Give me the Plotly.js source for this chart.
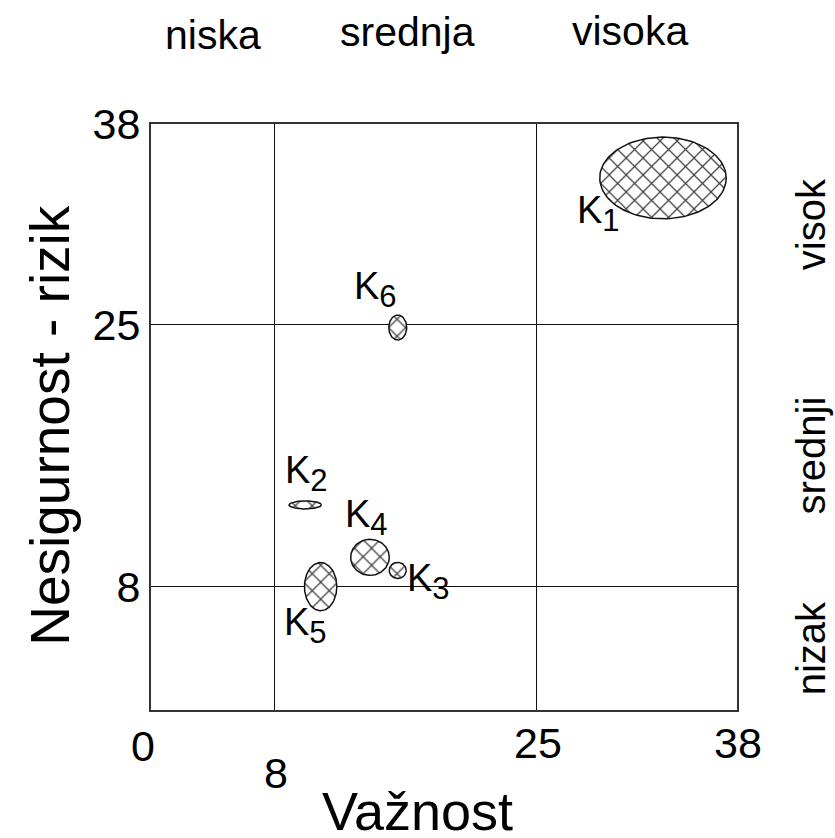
<!DOCTYPE html>
<html>
<head>
<meta charset="utf-8">
<script src="https://cdn.plot.ly/plotly-3.0.1.min.js"></script>
<style>html,body{margin:0;padding:0;background:#fff;}#chart{width:835px;height:838px;}</style>
</head>
<body>
<div id="chart"></div>
<script>
// ---- data ----
const names   = ["K1", "K2", "K3", "K4", "K5", "K6"];
const subs    = ["1", "2", "3", "4", "5", "6"];
const centerX = [33.2, 10.0, 16.0, 14.2, 11.0, 16.0];
const centerY = [34.5, 13.3, 9.05, 9.9, 8.0, 24.8];
const radiusX = [4.1, 1.05, 0.55, 1.25, 1.05, 0.58];
const radiusY = [2.65, 0.26, 0.52, 1.17, 1.56, 0.81];
const xTicks  = [0, 8, 25, 38];
const yTicks  = [8, 25, 38];
const xCats   = ["niska", "srednja", "visoka"];
const yCats   = ["nizak", "srednji", "visok"];
const bounds  = [0, 8, 25, 38];

const FONT = "Arial, 'Liberation Sans', sans-serif";

// ellipse outlines derived from centre and radii
function ellipse(cx, cy, rx, ry) {
  const xs = [], ys = [];
  const n = 120;
  for (let i = 0; i <= n; i++) {
    const t = 2 * Math.PI * i / n;
    xs.push(cx + rx * Math.cos(t));
    ys.push(cy + ry * Math.sin(t));
  }
  return {xs, ys};
}

const traces = names.map((nm, i) => {
  const e = ellipse(centerX[i], centerY[i], radiusX[i], radiusY[i]);
  return {
    type: "scatter", mode: "lines", name: nm,
    x: e.xs, y: e.ys,
    fill: "toself",
    fillcolor: "white",
    fillpattern: {shape: "x", size: 12, solidity: 0.2, fgcolor: "#444", bgcolor: "white"},
    line: {color: "#111", width: 1.5},
    hoverinfo: "skip"
  };
});

// label offsets in pixels relative to each ellipse (K1..K6)
const labelShift = [[-64, -36], [1, 31], [31, -11], [-3, 40], [-15, -39], [-22, 38]];

const annotations = [];
names.forEach((nm, i) => {
  annotations.push({
    x: centerX[i], y: centerY[i], xref: "x", yref: "y",
    text: "K<sub><span style='font-size:31px'>" + subs[i] + "</span></sub>",
    showarrow: false, xanchor: "center", yanchor: "middle",
    xshift: labelShift[i][0], yshift: labelShift[i][1],
    font: {family: FONT, size: 38, color: "#000"}
  });
});

// x tick labels
const xTickShift = [[-8, -36], [2, -63], [1, -33], [1, -33]];
xTicks.forEach((v, i) => {
  annotations.push({
    x: v, y: 0, xref: "x", yref: "y", text: String(v), showarrow: false,
    xanchor: "center", yanchor: "middle",
    xshift: xTickShift[i][0], yshift: xTickShift[i][1],
    font: {family: FONT, size: 43, color: "#000"}
  });
});

// category labels along top and right
for (let i = 0; i < 3; i++) {
  const mid = (bounds[i] + bounds[i + 1]) / 2;
  annotations.push({
    x: mid, y: 1, xref: "x", yref: "paper", yanchor: "middle", xanchor: "center",
    yshift: [89, 92, 93][i], xshift: [0, 2, -7][i],
    text: xCats[i], showarrow: false,
    font: {family: FONT, size: 41, color: "#000"}
  });
  annotations.push({
    x: 1, y: mid, xref: "paper", yref: "y", xanchor: "center", yanchor: "middle",
    xshift: [74, 74, 74][i],
    text: yCats[i], textangle: -90, showarrow: false,
    font: {family: FONT, size: 40, color: "#000"}
  });
}

// axis titles
annotations.push({
  x: 0.455, y: 0, xref: "paper", yref: "paper", xanchor: "center", yanchor: "middle",
  yshift: -101, text: "Važnost", showarrow: false,
  font: {family: FONT, size: 54, color: "#000"}
});
annotations.push({
  x: 0, y: 0.485, xref: "paper", yref: "paper", xanchor: "center", yanchor: "middle",
  xshift: -101, text: "Nesigurnost - rizik", textangle: -90, showarrow: false,
  font: {family: FONT, size: 55, color: "#000"}
});

const layout = {
  width: 835, height: 838,
  margin: {l: 151, r: 98, t: 124, b: 128},
  paper_bgcolor: "white", plot_bgcolor: "white",
  showlegend: false,
  xaxis: {
    range: [0, 38], tickvals: xTicks, showticklabels: false, ticks: "",
    showgrid: true, gridcolor: "#111", gridwidth: 1.5, zeroline: false,
    showline: true, mirror: true, linecolor: "#333", linewidth: 2
  },
  yaxis: {
    range: [0, 38], tickvals: yTicks, ticktext: yTicks.map(String), ticks: "",
    showgrid: true, gridcolor: "#111", gridwidth: 1.5, zeroline: false,
    showline: true, mirror: true, linecolor: "#333", linewidth: 2,
    tickfont: {family: FONT, size: 43, color: "#000"}
  },
  annotations: annotations
};

Plotly.newPlot("chart", traces, layout, {staticPlot: true, displayModeBar: false});
</script>
</body>
</html>
